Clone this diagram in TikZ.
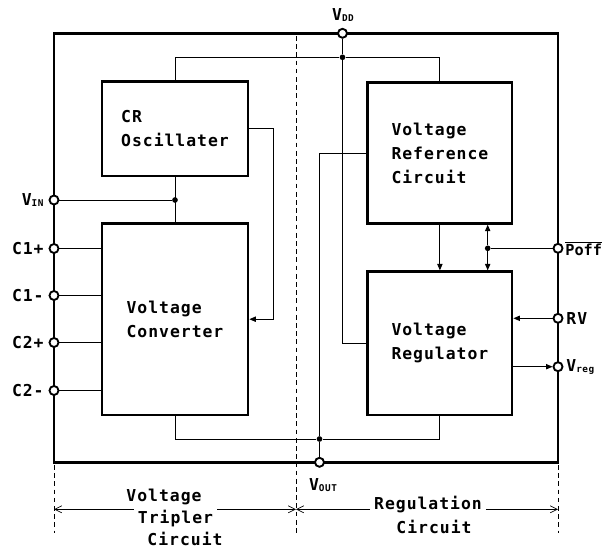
\documentclass[tikz,border=0pt]{standalone}
\usepackage{fontspec}
\usepackage{tikz}
\usetikzlibrary{arrows.meta,positioning,calc}
\newfontfamily\dsmono{DejaVu Sans Mono}[LetterSpace=6]
\newfontfamily\dstight{DejaVu Sans Mono}
\newcommand{\lab}{\dsmono\bfseries\fontsize{14}{20.4}\selectfont}
\newcommand{\vsub}[1]{\raisebox{-0.8pt}{\fontsize{8}{8}\selectfont#1}}
\tikzset{
  blk/.style={draw,line width=2.3pt,align=left,inner sep=0pt},
  pin/.style={circle,draw,fill=white,line width=1.6pt,inner sep=0pt,minimum size=0.27cm},
  dot/.style={circle,fill,inner sep=0pt,minimum size=0.17cm},
  wire/.style={line width=0.8pt},
  arr/.style={wire,-{Triangle[length=5.5pt,width=4.5pt]}},
  frm/.style={line width=2.3pt},
  divline/.style={line width=0.6pt,dash pattern=on 4pt off 3pt},
  dim/.style={line width=0.6pt,-{Straight Barb[length=6pt,width=6pt]}},
  lbl/.style={inner sep=1pt}
}

\begin{document}
\begin{tikzpicture}[x=0.03cm,y=-0.03cm,every node/.style={font=\lab}]
  \useasboundingbox (0,0) rectangle (605,548);
  \draw[frm] (54,33.3) rectangle (558,462.3);
  \draw[divline] (296,36) -- (296,533);
  \draw[divline] (54,465) -- (54,533);
  \draw[divline] (558,465) -- (558,533);

  \node[blk,minimum width=4.38cm,minimum height=2.83cm] (osc) at (175,128.9) {CR\\Oscillater};
  \node[blk,minimum width=4.38cm,minimum height=5.75cm] (conv) at (175,319.2) {Voltage\\Converter};
  \node[blk,minimum width=4.33cm,minimum height=4.22cm] (ref) at (439.9,153) {Voltage\\Reference\\Circuit};
  \node[blk,minimum width=4.33cm,minimum height=4.30cm] (reg) at (439.9,343.4) {Voltage\\Regulator};

  \node[dot] (jv) at (342.5,57.3) {};
  \node[dot] (jin) at (175,200) {};
  \node[dot] (jout) at (319.5,439) {};
  \node[dot] (jp) at (487.7,248.3) {};

  \draw[wire] (osc.north) |- (jv) -| (ref.north);
  \draw[wire] (osc.south) -- (conv.north);
  \draw[arr] (osc.east) -- ++(24,0) |- (conv.east);
  \draw[wire] (ref.west) -| (jout);
  \draw[wire] (conv.south) |- (jout) -| (reg.south);
  \draw[arr] (ref.south) -- (reg.north);
  \draw[arr] (jp) -- (jp |- ref.south);
  \draw[arr] (jp) -- (jp |- reg.north);

  \node[pin] (vdd) at (342.5,33.3) {};
  \node[pin] (vout) at (319.5,462.3) {};
  \node[pin] (vin) at (54,200) {};
  \node[pin] (poff) at (558,248.3) {};
  \node[pin] (rv) at (558,318.3) {};
  \node[pin] (vreg) at (558,366.7) {};
  \draw[wire] (vdd) -- (jv) |- (reg.west);
  \draw[wire] (jout) -- (vout);
  \draw[wire] (vin) -- (jin);
  \draw[wire] (poff) -- (jp);
  \draw[arr] (rv) -- (rv -| reg.east);
  \draw[arr] (vreg -| reg.east) -- (vreg);

  \foreach \n/\t/\y in {ca/C1+/248.5,cb/C1-/295.5,cc/C2+/342.5,cd/C2-/390.5}{
    \node[pin] (\n) at (54,\y) {};
    \node[lbl,anchor=east] (l\n) at (45,\y) {\t};
    \draw[wire] (\n) -- (\n -| conv.west);
  }

  \node[lbl] (lvdd) at (343,15) {V\vsub{DD}};
  \node[lbl] (lvout) at (323,485) {V\vsub{OUT}};
  \node[lbl,anchor=east] (lvin) at (45,200) {V\vsub{IN}};
  \node[lbl,anchor=west,font=\dstight\bfseries\fontsize{13}{14}\selectfont] (lpoff) at (564,248.3) {$\overline{\mbox{Poff}}$};
  \node[lbl,anchor=west] (lrv) at (565,318.3) {RV};
  \node[lbl,anchor=west] (lvreg) at (565,366.7) {V\vsub{reg}};

  \coordinate (dl) at (54,509.3);
  \coordinate (dm) at (296,509.3);
  \coordinate (dr) at (558,509.3);
  \node (tv) at (164,496.7) {Voltage};
  \node (tt) at (175.5,518.3) {Tripler};
  \node[lbl] (tc) at (185,538.5) {Circuit};
  \node (rg) at (428,505) {Regulation};
  \node (rc) at (434,526.7) {Circuit};
  \draw[dim] (tt.west |- dl) -- (dl);
  \draw[dim] (tt.east |- dl) -- (dm);
  \draw[dim] (rg.west |- dm) -- (dm);
  \draw[dim] (rg.east |- dr) -- (dr);
\end{tikzpicture}
\end{document}
